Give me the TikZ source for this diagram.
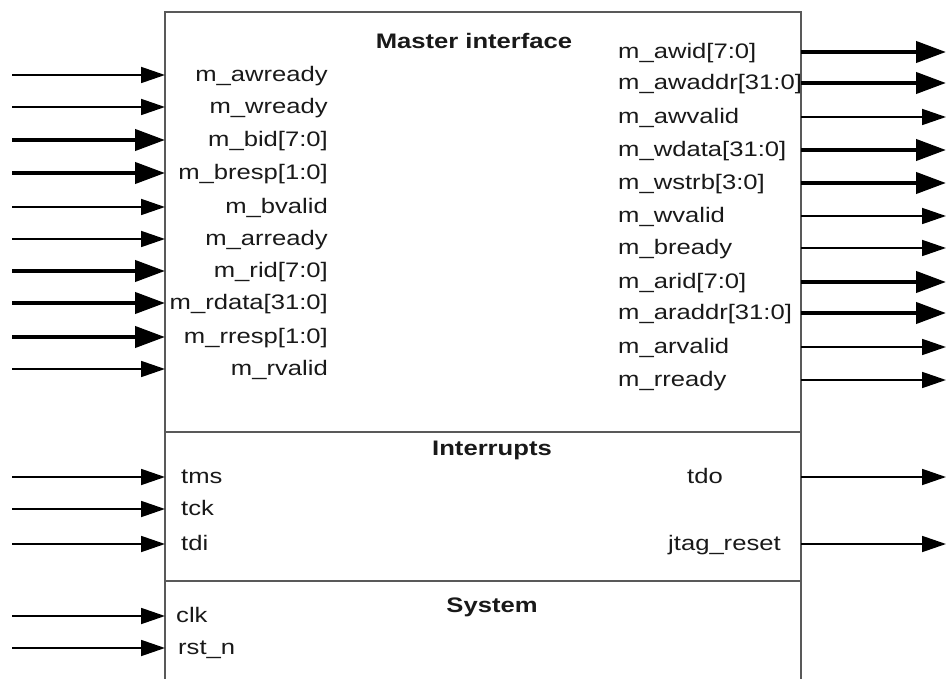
\documentclass[tikz,border=0pt]{standalone}
\usepackage{fontspec}
\setmainfont{Liberation Sans}[FakeStretch=1.22]
\usetikzlibrary{arrows.meta}
\begin{document}
\begin{tikzpicture}[x=1pt,y=-1pt,
  sig/.style={line width=1.8pt,-{Triangle[length=24pt,width=16pt]}},
  bus/.style={line width=4.2pt,-{Triangle[length=30pt,width=21pt]}},
  boxline/.style={draw=black!65,line width=1.6pt},
  lab/.style={font=\fontsize{21}{24}\selectfont,inner sep=0pt,text=black!90},
  ttl/.style={font=\fontsize{21}{24}\selectfont\bfseries,inner sep=0pt,text=black!90}]
\useasboundingbox (0,0) rectangle (946,679);
\clip (0,0) rectangle (946,679);
% block
\coordinate (tl) at (165,12);
\coordinate (br) at (801,700);
\draw[boxline] (tl) rectangle (br);
\coordinate (d1l) at (165,432); \coordinate (d1r) at (801,432);
\coordinate (d2l) at (165,581); \coordinate (d2r) at (801,581);
\draw[boxline] (d1l) -- (d1r);
\draw[boxline] (d2l) -- (d2r);
% titles
\node[ttl,anchor=base] (tmaster) at (474,49) {Master interface};
\node[ttl,anchor=base] (tint) at (492,455) {Interrupts};
\node[ttl,anchor=base] (tsys) at (492,612) {System};
% left inputs (master)
\foreach \n/\y/\s/\t in {
  awready/75/sig/m\_awready,
  wready/107/sig/m\_wready,
  bid/140/bus/m\_bid[7:0],
  bresp/173/bus/m\_bresp[1:0],
  bvalid/207/sig/m\_bvalid,
  arready/239/sig/m\_arready,
  rid/271/bus/m\_rid[7:0],
  rdata/303/bus/m\_rdata[31:0],
  rresp/337/bus/m\_rresp[1:0],
  rvalid/369/sig/m\_rvalid}{
  \coordinate (\n-src) at (12,\y);
  \coordinate (\n-pin) at (165,\y);
  \draw[\s] (\n-src) -- (\n-pin);
  \node[lab,anchor=base east] (\n-lab) at (328,\y+6.5) {\t};
}
% right outputs (master)
\foreach \n/\y/\s/\t in {
  awid/52/bus/m\_awid[7:0],
  awaddr/83/bus/m\_awaddr[31:0],
  awvalid/117/sig/m\_awvalid,
  wdata/150/bus/m\_wdata[31:0],
  wstrb/183/bus/m\_wstrb[3:0],
  wvalid/216/sig/m\_wvalid,
  bready/248/sig/m\_bready,
  arid/282/bus/m\_arid[7:0],
  araddr/313/bus/m\_araddr[31:0],
  arvalid/347/sig/m\_arvalid,
  rready/380/sig/m\_rready}{
  \coordinate (\n-pin) at (801,\y);
  \coordinate (\n-dst) at (946,\y);
  \draw[\s] (\n-pin) -- (\n-dst);
  \node[lab,anchor=base west] (\n-lab) at (618,\y+6.5) {\t};
}
% interrupts / system inputs
\foreach \n/\y/\x/\t in {
  tms/477/181/tms,
  tck/509/181/tck,
  tdi/544/181/tdi,
  clk/616/176/clk,
  rstn/648/178/rst\_n}{
  \coordinate (\n-src) at (12,\y);
  \coordinate (\n-pin) at (165,\y);
  \draw[sig] (\n-src) -- (\n-pin);
  \node[lab,anchor=base west] (\n-lab) at (\x,\y+6.5) {\t};
}
% interrupts outputs
\foreach \n/\y/\x/\t in {
  tdo/477/687/tdo,
  jtag/544/668/jtag\_reset}{
  \coordinate (\n-pin) at (801,\y);
  \coordinate (\n-dst) at (946,\y);
  \draw[sig] (\n-pin) -- (\n-dst);
  \node[lab,anchor=base west] (\n-lab) at (\x,\y+6.5) {\t};
}
\end{tikzpicture}
\end{document}
